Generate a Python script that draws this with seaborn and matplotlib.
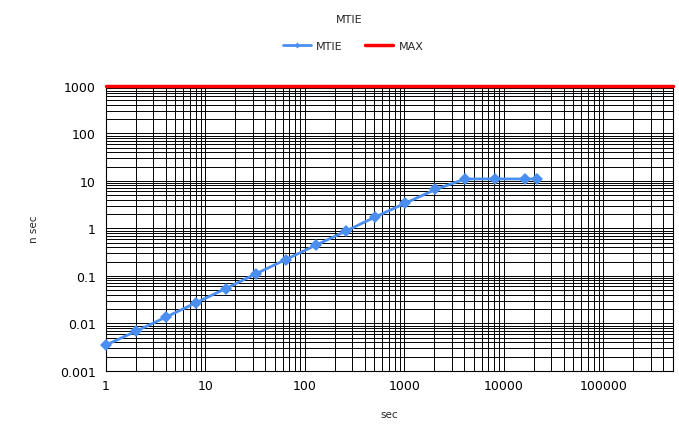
import numpy as np
import pandas as pd
import matplotlib
matplotlib.use("Agg")
import matplotlib.pyplot as plt
import seaborn as sns
from matplotlib.ticker import LogLocator, FixedLocator, FixedFormatter, NullFormatter

# --- data ---
tau = [1, 2, 4, 8, 16, 32, 64, 128, 256, 512, 1024, 2048, 4096, 8192, 16384, 21600]
mtie = [0.0035, 0.0068, 0.0135, 0.027, 0.054, 0.11, 0.22, 0.44, 0.87, 1.75,
        3.4, 6.6, 11.0, 11.0, 11.0, 11.0]
max_tau = [1, 500000]
max_val = [1000, 1000]

x_ticks = [1, 10, 100, 1000, 10000, 100000]
x_labels = ["1", "10", "100", "1000", "10000", "100000"]
y_ticks = [0.001, 0.01, 0.1, 1, 10, 100, 1000]
y_labels = ["0.001", "0.01", "0.1", "1", "10", "100", "1000"]

df = pd.DataFrame({"tau": tau, "mtie": mtie})
df_max = pd.DataFrame({"tau": max_tau, "val": max_val})

sns.set_style("white")
plt.rcParams["font.family"] = ["DejaVu Sans"]

fig = plt.figure(figsize=(6.79, 4.39), dpi=100)
ax = fig.add_axes([0.156, 0.153, 0.835, 0.649])

ax.set_xscale("log")
ax.set_yscale("log")
ax.set_xlim(1, 500000)
ax.set_ylim(0.001, 1000)

# dense black log grid
ax.xaxis.set_major_locator(FixedLocator(x_ticks))
ax.xaxis.set_major_formatter(FixedFormatter(x_labels))
ax.xaxis.set_minor_locator(LogLocator(base=10, subs=np.arange(2, 10)))
ax.xaxis.set_minor_formatter(NullFormatter())
ax.yaxis.set_major_locator(FixedLocator(y_ticks))
ax.yaxis.set_major_formatter(FixedFormatter(y_labels))
ax.yaxis.set_minor_locator(LogLocator(base=10, subs=np.arange(2, 10)))
ax.yaxis.set_minor_formatter(NullFormatter())
ax.grid(True, which="both", color="black", linewidth=0.7)
ax.set_axisbelow(True)

sns.lineplot(data=df_max, x="tau", y="val", ax=ax, color="#ff0000",
             linewidth=2.5, label="MAX", zorder=3, clip_on=False)
sns.lineplot(data=df, x="tau", y="mtie", ax=ax, color="#4a8ff0",
             linewidth=2, marker="D", markersize=6, markeredgewidth=0,
             label="MTIE", zorder=4, clip_on=False)

for s in ax.spines.values():
    s.set_color("black")
    s.set_linewidth(0.8)
ax.spines["top"].set_visible(False)

ax.tick_params(axis="both", which="major", length=4, width=0.8, labelsize=9,
               colors="black", direction="out")
ax.tick_params(axis="x", which="major", length=0, pad=6)
ax.tick_params(axis="both", which="minor", length=0)

ax.set_xlabel("sec", fontsize=7.5, labelpad=12)
ax.set_ylabel("n sec", fontsize=7.5, labelpad=15)

handles, labels = ax.get_legend_handles_labels()
order = [labels.index("MTIE"), labels.index("MAX")]
leg = fig.legend([handles[i] for i in order], [labels[i] for i in order],
                 loc="center", bbox_to_anchor=(0.52, 0.893), ncol=2,
                 frameon=False, fontsize=8, handlelength=2.5, markerscale=0.5,
                 columnspacing=2, handletextpad=0.5)
if ax.get_legend():
    ax.get_legend().remove()

fig.suptitle("MTIE", x=0.515, y=0.965, fontsize=8)

fig.savefig("out.png", dpi=100)
